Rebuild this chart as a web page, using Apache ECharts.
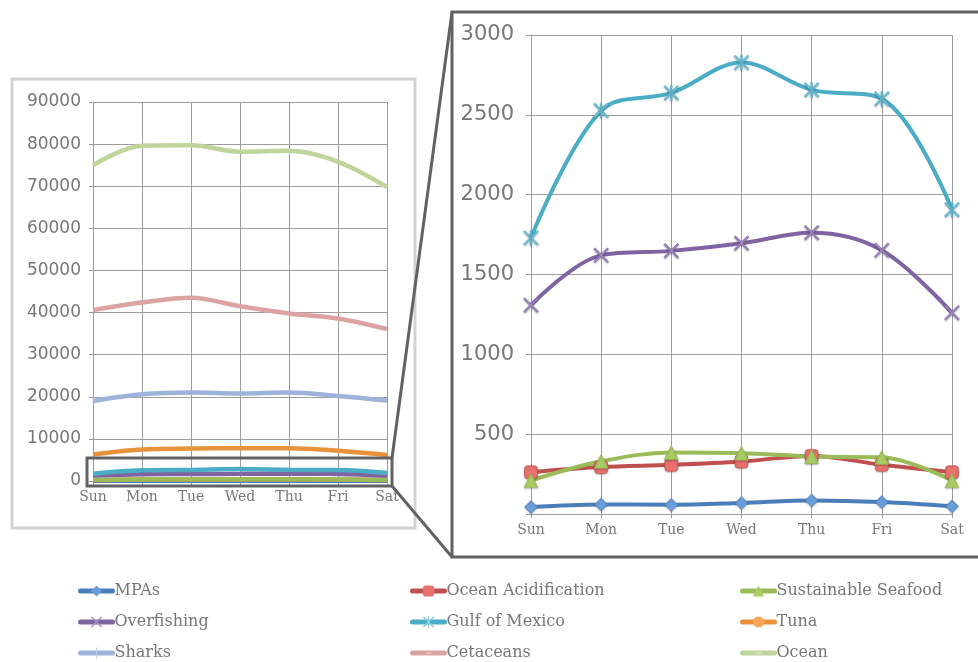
<!DOCTYPE html>
<html>
<head>
<meta charset="utf-8">
<script src="https://cdn.jsdelivr.net/npm/echarts@6/dist/echarts.min.js"></script>
<style>
  html, body { margin: 0; padding: 0; background: #ffffff; }
  #chart { width: 978px; height: 662px; }
</style>
</head>
<body>
<div id="chart"></div>
<script>
// Weekly counts per topic
const days = ['Sun', 'Mon', 'Tue', 'Wed', 'Thu', 'Fri', 'Sat'];
const overviewTicks = [0, 10000, 20000, 30000, 40000, 50000, 60000, 70000, 80000, 90000];
const detailTicks = [500, 1000, 1500, 2000, 2500, 3000];

const mpas = [44, 60, 58, 69, 85, 75, 48];
const oceanAcidification = [262, 294, 308, 329, 364, 308, 262];
const sustainableSeafood = [210, 330, 385, 381, 360, 355, 210];
const overfishing = [1308, 1620, 1648, 1696, 1762, 1652, 1260];
const gulfOfMexico = [1729, 2527, 2637, 2827, 2656, 2600, 1906];
const tuna = [6300, 7500, 7700, 7800, 7800, 7200, 6200];
const sharks = [19000, 20600, 21000, 20800, 21000, 20200, 19100];
const cetaceans = [40600, 42400, 43500, 41500, 39800, 38600, 36100];
const ocean = [75000, 79600, 79700, 78200, 78400, 75800, 69800];

// marker shapes (corner dots keep every path on a full 10x10 box so it scales evenly)
const box = ' M0,0 L0,0 Z M10,10 L10,10 Z';
const xMark = 'path://M0,0.9 L0.9,0 L5,4.1 L9.1,0 L10,0.9 L5.9,5 L10,9.1 L9.1,10 L5,5.9 L0.9,10 L0,9.1 L4.1,5 Z';
const starMark = 'path://M0,0.9 L0.9,0 L5,4.1 L9.1,0 L10,0.9 L5.9,5 L10,9.1 L9.1,10 L5,5.9 L0.9,10 L0,9.1 L4.1,5 Z M4.5,0 L5.5,0 L5.5,10 L4.5,10 Z';
const plusMark = 'path://M4.5,0 L5.5,0 L5.5,10 L4.5,10 Z' + box;
const dashMark = 'path://M2.5,4.3 L7.5,4.3 L7.5,5.7 L2.5,5.7 Z' + box;

const topics = [
  { name: 'MPAs', data: mpas, color: '#4a7ebb', mark: '#6a9edb', symbol: 'diamond', size: 13, detail: true },
  { name: 'Ocean Acidification', data: oceanAcidification, color: '#c0504d', mark: '#e8716e', symbol: 'roundRect', size: 13, detail: true },
  { name: 'Sustainable Seafood', data: sustainableSeafood, color: '#9bbb59', mark: '#a9cc63', symbol: 'triangle', size: 14, detail: true },
  { name: 'Overfishing', data: overfishing, color: '#8064a2', mark: '#a590c4', symbol: xMark, size: 15, detail: true },
  { name: 'Gulf of Mexico', data: gulfOfMexico, color: '#4bacc6', mark: '#80cadd', symbol: starMark, size: 15, detail: true },
  { name: 'Tuna', data: tuna, color: '#e8923c', mark: '#f6a85a', symbol: 'circle', size: 10, detail: false },
  { name: 'Sharks', data: sharks, color: '#9db3d9', mark: '#c3d2ea', symbol: plusMark, size: 10, detail: false },
  { name: 'Cetaceans', data: cetaceans, color: '#dba3a1', mark: '#ecc4c3', symbol: dashMark, size: 10, detail: false },
  { name: 'Ocean', data: ocean, color: '#bfd59b', mark: '#dbe8c6', symbol: dashMark, size: 10, detail: false }
];

const labelGray = '#777777';
const gridGray = '#9d9d9d';
const serif = '"DejaVu Serif", "Liberation Serif", serif';
const sans = '"DejaVu Sans", "Noto Sans", sans-serif';
const curve = 0.35;

const series = [];
// detail panel series first so the legend picks up their markers
topics.forEach(t => {
  if (!t.detail) return;
  series.push({
    name: t.name, type: 'line', xAxisIndex: 1, yAxisIndex: 1,
    data: t.data, smooth: curve, symbol: t.symbol, symbolSize: t.size,
    showAllSymbol: true,
    lineStyle: { color: t.color, width: 4 },
    itemStyle: { color: t.mark, borderColor: t.color, borderWidth: 0.6,
                 shadowColor: 'rgba(0,0,0,0.25)', shadowBlur: 2, shadowOffsetY: 1 },
    z: 3
  });
});
topics.forEach(t => {
  series.push({
    name: t.name, type: 'line', xAxisIndex: 0, yAxisIndex: 0,
    data: t.data, smooth: curve,
    symbol: t.detail ? 'none' : t.symbol, symbolSize: t.size, showSymbol: false,
    lineStyle: { color: t.color, width: 4.5 },
    itemStyle: { color: t.mark },
    z: 2
  });
});

const legendColumns = [
  ['MPAs', 'Overfishing', 'Sharks'],
  ['Ocean Acidification', 'Gulf of Mexico', 'Cetaceans'],
  ['Sustainable Seafood', 'Tuna', 'Ocean']
];
const legendLefts = [78, 410, 740];

const legends = legendColumns.map((col, i) => ({
  data: col, orient: 'vertical', left: legendLefts[i], top: 582,
  padding: 0, itemGap: 13, itemWidth: 32, itemHeight: 14,
  selectedMode: false,
  lineStyle: { width: 5, cap: 'round' },
  itemStyle: { borderWidth: 0, shadowBlur: 0 },
  textStyle: { fontFamily: serif, fontSize: 16, color: labelGray, lineHeight: 18, padding: [0, 0, 0, -3] }
}));

const xAxisCommon = {
  type: 'category', data: days, boundaryGap: false,
  axisLine: { lineStyle: { color: gridGray, width: 1 } },
  axisTick: { show: true, length: 4, lineStyle: { color: gridGray } },
  splitLine: { show: true, lineStyle: { color: gridGray, width: 1 } },
  axisLabel: { fontFamily: serif, fontSize: 14, color: labelGray, margin: 9 }
};

const option = {
  animation: false,
  backgroundColor: '#ffffff',
  legend: legends,
  grid: [
    { left: 93, right: 978 - 387, top: 102, bottom: 662 - 481 },
    { left: 531, right: 978 - 952, top: 35, bottom: 662 - 514 }
  ],
  xAxis: [
    Object.assign({ gridIndex: 0 }, xAxisCommon),
    Object.assign({ gridIndex: 1 }, xAxisCommon)
  ],
  yAxis: [
    {
      gridIndex: 0, type: 'value', min: overviewTicks[0], max: overviewTicks[overviewTicks.length - 1],
      interval: overviewTicks[1] - overviewTicks[0],
      axisLine: { show: true, lineStyle: { color: gridGray } },
      axisTick: { show: true, length: 4, lineStyle: { color: gridGray } },
      splitLine: { lineStyle: { color: gridGray, width: 1 } },
      axisLabel: { fontFamily: sans, fontSize: 17, color: labelGray, margin: 12,
                   formatter: v => String(v) }
    },
    {
      gridIndex: 1, type: 'value', min: 0, max: detailTicks[detailTicks.length - 1],
      interval: detailTicks[0],
      axisLine: { show: true, lineStyle: { color: gridGray } },
      axisTick: { show: true, length: 5, lineStyle: { color: gridGray } },
      splitLine: { lineStyle: { color: gridGray, width: 1 } },
      axisLabel: {
        fontFamily: sans, fontSize: 21, color: labelGray, margin: 17,
        formatter: v => (detailTicks.indexOf(v) >= 0 ? String(v) : '')
      }
    }
  ],
  series: series
};

const chart = echarts.init(document.getElementById('chart'), null, { renderer: 'canvas' });
chart.setOption(option);

// frames: overview panel, zoom window, detail panel and the connectors between them
const frame = '#626262';
chart.setOption({
  graphic: [
    { type: 'rect', shape: { x: 12, y: 79, width: 403, height: 449 },
      style: { fill: 'none', stroke: '#d3d3d3', lineWidth: 3 }, z: 0, silent: true },
    { type: 'rect', shape: { x: 87, y: 458, width: 305, height: 28 },
      style: { fill: 'none', stroke: frame, lineWidth: 3 }, z: 10, silent: true },
    { type: 'polyline', shape: { points: [[392, 458], [452, 12], [990, 12]] },
      style: { fill: 'none', stroke: frame, lineWidth: 3 }, z: 10, silent: true },
    { type: 'polyline', shape: { points: [[452, 12], [452, 557], [990, 557]] },
      style: { fill: 'none', stroke: frame, lineWidth: 3 }, z: 10, silent: true },
    { type: 'line', shape: { x1: 392, y1: 486, x2: 452, y2: 557 },
      style: { stroke: frame, lineWidth: 3 }, z: 10, silent: true }
  ]
});
</script>
</body>
</html>
